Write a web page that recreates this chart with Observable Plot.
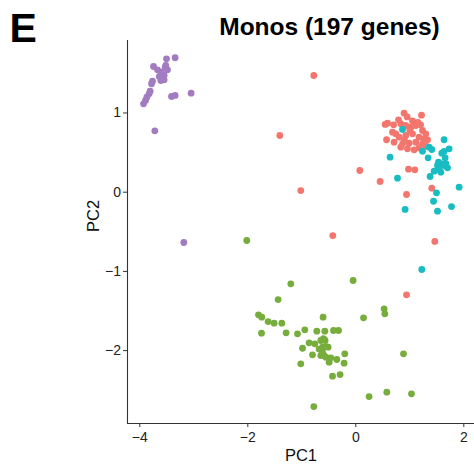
<!DOCTYPE html>
<html>
<head>
<meta charset="utf-8">
<script src="https://cdn.jsdelivr.net/npm/d3@7"></script>
<script src="https://cdn.jsdelivr.net/npm/@observablehq/plot@0.6"></script>
<style>
  html, body { margin: 0; padding: 0; background: #fff; }
  #chart { position: relative; width: 474px; height: 468px; overflow: hidden; }
  svg { font-family: "Liberation Sans", Arial, Helvetica, sans-serif; }
</style>
</head>
<body>
<div id="chart"></div>
<script>
// ---- data (PC1, PC2) ----
const groupNames = ["cluster1", "cluster2", "cluster3", "cluster4"];
const groupColors = ["#A27CC1", "#77AD3C", "#F2766D", "#18BDC2"];

const purplePts = [
  [-3.506, 1.684], [-3.346, 1.697], [-3.746, 1.587], [-3.672, 1.545], [-3.611, 1.515],
  [-3.531, 1.571], [-3.487, 1.545], [-3.55, 1.473], [-3.611, 1.41], [-3.55, 1.419],
  [-3.58, 1.487], [-3.765, 1.402], [-3.783, 1.369], [-3.809, 1.275], [-3.828, 1.242],
  [-3.87, 1.199], [-3.894, 1.158], [-3.931, 1.116], [-3.413, 1.208], [-3.346, 1.221],
  [-3.05, 1.25], [-3.722, 0.775], [-3.185, -0.635], [-3.64, 1.46], [-3.52, 1.60]
];

const greenPts = [
  [-1.204, -1.157], [-0.05, -1.115], [-1.439, -1.355], [-1.802, -1.548], [-1.741, -1.578],
  [-1.624, -1.633], [-1.513, -1.654], [-1.37, -1.654], [-1.746, -1.78], [-1.291, -1.775],
  [-1.08, -1.788], [-0.944, -1.737], [-0.722, -1.755], [-0.574, -1.755], [-0.413, -1.746],
  [-0.32, -1.746], [-0.606, -1.578], [0.143, -1.586], [0.524, -1.472], [0.537, -1.535],
  [-0.865, -1.902], [-0.759, -1.914], [-0.648, -1.872], [-0.569, -1.872], [-0.987, -1.97],
  [-0.802, -2.053], [-0.617, -1.957], [-0.617, -2.02], [-0.587, -2.062], [-0.513, -1.957],
  [-0.648, -2.062], [-0.556, -2.083], [-0.463, -2.091], [-0.352, -2.112], [-0.204, -2.04],
  [-0.217, -2.159], [-0.494, -2.146], [-1.019, -2.167], [-0.431, -2.323], [-0.291, -2.302],
  [0.883, -2.04], [-0.778, -2.706], [0.246, -2.58], [0.574, -2.525], [1.031, -2.545],
  [-2.019, -0.61], [-0.6, -1.85], [-0.55, -1.95], [-0.68, -1.98]
];

const redPts = [
  [0.894, 0.997], [1.217, 0.972], [0.543, 0.855], [0.587, 0.871], [0.791, 0.914],
  [0.833, 0.864], [0.68, 0.758], [0.569, 0.662], [0.709, 0.631], [0.926, 0.842],
  [1.019, 0.821], [1.111, 0.842], [1.235, 0.779], [1.296, 0.737], [1.172, 0.694],
  [1.265, 0.674], [1.328, 0.662], [0.802, 0.694], [0.926, 0.716], [1.05, 0.737],
  [0.865, 0.611], [0.987, 0.619], [1.111, 0.631], [1.235, 0.611], [0.957, 0.548],
  [1.08, 0.535], [1.172, 0.561], [0.833, 0.568], [0.741, 0.737], [0.95, 0.95],
  [1.05, 0.9], [1.15, 0.88], [0.7, 0.85], [1.0, 0.78], [1.2, 0.85], [0.9, 0.66],
  [1.3, 0.58],
  [-0.778, 1.473], [-1.407, 0.716], [-1.019, 0.021], [-0.426, -0.547], [0.074, 0.274],
  [0.45, 0.135], [0.976, 0.29], [1.093, 0.283], [0.939, -0.029], [1.407, 0.051],
  [1.463, -0.622], [0.939, -1.295]
];

const tealPts = [
  [1.635, 0.662], [1.357, 0.568], [1.407, 0.539], [1.728, 0.548], [1.235, 0.518],
  [1.593, 0.492], [1.635, 0.514], [1.339, 0.434], [1.654, 0.434], [1.531, 0.379],
  [1.574, 0.359], [1.513, 0.337], [1.635, 0.337], [1.698, 0.308], [1.667, 0.359],
  [1.543, 0.283], [1.45, 0.265], [1.574, 0.253], [1.376, 0.198], [0.772, 0.177],
  [1.913, 0.063], [1.494, -0.008], [1.439, -0.114], [1.772, -0.181], [0.913, -0.218],
  [1.513, -0.24], [0.865, 0.792], [0.635, 0.442], [1.222, -0.976]
];

const xTicks = [-4, -2, 0, 2];
const yTicks = [-2, -1, 0, 1];
const xDomain = [-4.228, 2.198];
const yDomain = [-2.92, 1.915];
const titleText = "Monos (197 genes)";
const panelTag = "E";
const xLabel = "PC1";
const yLabel = "PC2";

// ---- build table ----
const groups = [purplePts, greenPts, redPts, tealPts];
const points = groups.flatMap((pts, i) => pts.map(([x, y]) => ({pc1: x, pc2: y, group: groupNames[i]})));

const font = "Liberation Sans, Arial, Helvetica, sans-serif";
const fmt = d3.format("d");

const chart = Plot.plot({
  width: 474,
  height: 468,
  marginLeft: 127,
  marginRight: 0,
  marginTop: 40,
  marginBottom: 45,
  style: {fontFamily: font, fontSize: "14px", color: "#222", background: "#fff"},
  x: {domain: xDomain},
  y: {domain: yDomain},
  color: {domain: groupNames, range: groupColors},
  marks: [
    Plot.axisX({ticks: xTicks, tickFormat: fmt, tickSize: 4, tickPadding: 4.5, label: null, fontSize: 14, stroke: "#333", fill: "#222"}),
    Plot.axisY({ticks: yTicks, tickFormat: fmt, tickSize: 4, tickPadding: 2.5, label: null, fontSize: 14, stroke: "#333", fill: "#222"}),
    Plot.frame({anchor: "left", stroke: "#333", strokeWidth: 1.1}),
    Plot.frame({anchor: "bottom", stroke: "#333", strokeWidth: 1.1}),
    Plot.dot(points, {x: "pc1", y: "pc2", fill: "group", r: 3.4, stroke: null}),
    Plot.text([xLabel], {frameAnchor: "bottom", dy: 32, text: d => d, fontSize: 16.5, fill: "#111", lineAnchor: "middle"}),
    Plot.text([yLabel], {frameAnchor: "left", dx: -34, rotate: -90, text: d => d, fontSize: 16.5, fill: "#111", lineAnchor: "middle"}),
    Plot.text([titleText], {frameAnchor: "top-left", dx: 202, dy: -23, text: d => d, fontSize: 24.5, fontWeight: "bold", fill: "#000", textAnchor: "middle", lineAnchor: "top"}),
    Plot.text([panelTag], {frameAnchor: "top-left", dx: -118, dy: -28, text: d => d, fontSize: 41, fontWeight: "bold", fill: "#000", textAnchor: "start", lineAnchor: "top"})
  ]
});
document.getElementById("chart").appendChild(chart);
</script>
</body>
</html>
